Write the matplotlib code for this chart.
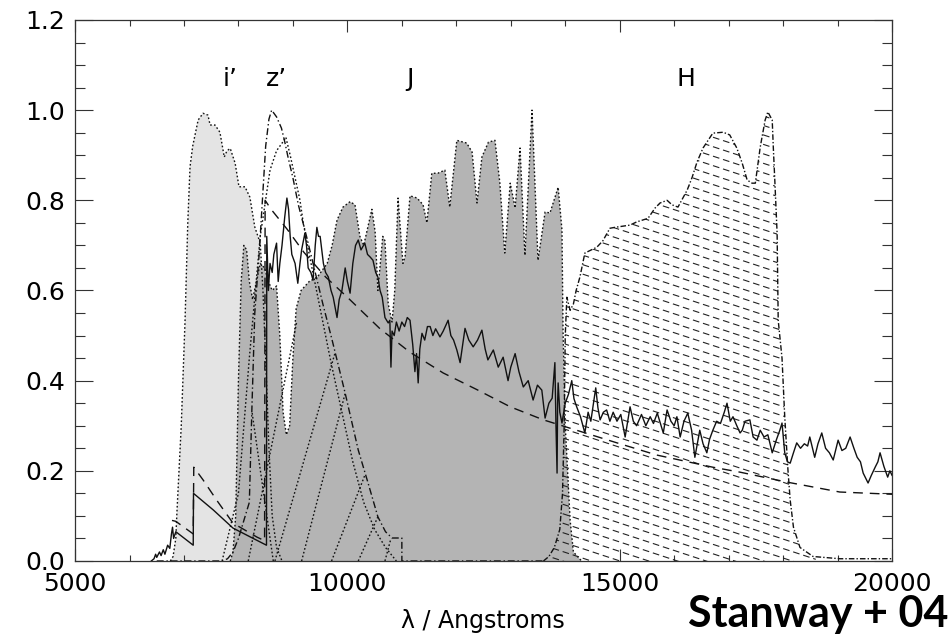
import numpy as np
import matplotlib
matplotlib.use('Agg')
import matplotlib.pyplot as plt
from matplotlib.patches import PathPatch

# i' filter (light grey fill)
ip_x = [6750, 6800, 6850, 6870, 6950, 7020, 7070, 7111, 7160, 7260, 7350, 7440, 7480, 7570, 7660,
        7740, 7790, 7850, 7940, 8010, 8120, 8210, 8300, 8400, 8450, 8500, 8560, 8620, 8700, 8800]
ip_y = [0, 0.01, 0.05, 0.106, 0.3, 0.534, 0.75, 0.874, 0.92, 0.978, 0.993, 0.989, 0.967, 0.967, 0.951,
        0.896, 0.91, 0.915, 0.882, 0.83, 0.83, 0.807, 0.741, 0.705, 0.6, 0.45, 0.25, 0.1, 0.03, 0]

# J / atmosphere curve (dark grey fill)
g_x = [7850, 7900, 7950, 8000, 8050, 8100, 8150, 8200, 8260, 8330, 8400, 8480, 8550, 8620, 8700,
       8760, 8820, 8880, 8940, 9000, 9060, 9150, 9300, 9450, 9630, 9720, 9810, 9920, 10050, 10140,
       10230, 10300, 10450, 10510, 10560, 10650, 10690, 10750, 10820, 10870, 10930, 11020, 11060, 11150, 11280,
       11390, 11460, 11550, 11660, 11790, 11880, 12010, 12190, 12290, 12380, 12470, 12590, 12710, 12800, 12890,
       12990, 13080, 13170, 13260, 13390, 13500, 13630, 13720, 13870, 13940, 13960, 14000, 14090, 14150, 14300]
g_y = [0, 0.02, 0.1, 0.4, 0.62, 0.70, 0.69, 0.62, 0.58, 0.62, 0.66, 0.65, 0.62, 0.60, 0.61,
       0.50, 0.33, 0.28, 0.30, 0.45, 0.56, 0.60, 0.62, 0.63, 0.66, 0.70, 0.756, 0.785, 0.797, 0.79,
       0.72, 0.70, 0.78, 0.73, 0.60, 0.72, 0.71, 0.57, 0.53, 0.60, 0.805, 0.66, 0.675, 0.81, 0.805,
       0.79, 0.75, 0.86, 0.86, 0.867, 0.785, 0.933, 0.927, 0.907, 0.794, 0.896, 0.929, 0.933, 0.838, 0.683,
       0.838, 0.783, 0.916, 0.678, 1.0, 0.667, 0.774, 0.772, 0.829, 0.734, 0.51, 0.3, 0.09, 0.02, 0]

# H filter (hatched)
h_x = [13600, 13700, 13800, 13900, 13950, 13980, 14000, 14030, 14090, 14150,
       14200, 14270, 14360, 14580, 14690, 14820, 14910, 15190, 15310, 15520,
       15650, 15740, 15870, 15960, 16070, 16240, 16330, 16420, 16530, 16710,
       16900, 17020, 17150, 17250, 17340, 17430, 17490, 17580, 17670, 17720,
       17800, 17820, 17850, 17890, 17910, 17980, 18030, 18090, 18130, 18190,
       18310, 18550, 19040, 20000]
h_y = [0, 0.01, 0.03, 0.07, 0.15, 0.3, 0.5, 0.585, 0.556, 0.57,
       0.6, 0.63, 0.683, 0.696, 0.71, 0.738, 0.74, 0.745, 0.752, 0.76,
       0.783, 0.794, 0.80, 0.79, 0.785, 0.823, 0.851, 0.885, 0.916, 0.949,
       0.951, 0.945, 0.916, 0.882, 0.845, 0.838, 0.838, 0.918, 0.978, 0.996,
       0.978, 0.918, 0.838, 0.727, 0.534, 0.45, 0.32, 0.2, 0.135, 0.075,
       0.03, 0.01, 0.005, 0.005]

# z' filter (dash-dot)
zp_x = [6500, 7700, 7800, 7900, 8000, 8100, 8200, 8250, 8300, 8380, 8440, 8500, 8560, 8610, 8700,
        8790, 8850, 8910, 9000, 9100, 9250, 9400, 9550, 9720, 9960, 10200, 10380, 10560, 10700, 10820,
        11000, 11001, 13600]
zp_y = [0, 0, 0.005, 0.02, 0.05, 0.09, 0.13, 0.35, 0.55, 0.68, 0.8, 0.92, 0.98, 1.0, 0.985,
        0.96, 0.93, 0.896, 0.85, 0.79, 0.72, 0.645, 0.57, 0.49, 0.372, 0.246, 0.173, 0.098, 0.065, 0.051,
        0.051, 0, 0]

# dotted curve peaking near z'
d0_x = [7700, 8000, 8200, 8400, 8580, 8700, 8820, 8870, 8950, 9040, 9130, 9190, 9300, 9500, 9700,
        9900, 10100, 10300, 10500, 10700, 10900]
d0_y = [0, 0.15, 0.45, 0.72, 0.867, 0.91, 0.93, 0.94, 0.9, 0.85, 0.8, 0.75, 0.68, 0.56, 0.44,
        0.33, 0.22, 0.13, 0.07, 0.03, 0]

# dotted straight segments
seg_x0 = [8180, 8670, 9160, 9710, 10200, 10690, 8640]
seg_y0 = [0, 0, 0, 0, 0, 0, 0]
seg_x1 = [9070, 9770, 9960, 10320, 10560, 10800, 8250]
seg_y1 = [0.53, 0.46, 0.372, 0.19, 0.098, 0.05, 0.33]

# observed spectrum (solid)
spectrum = [
    (6400, 0.0), (6450, 0.005), (6480, 0.015), (6500, 0.008), (6550, 0.02), (6580, 0.012),
    (6620, 0.025), (6650, 0.015), (6700, 0.035), (6740, 0.028), (6770, 0.06), (6790, 0.075),
    (6810, 0.05), (6850, 0.065), (7170, 0.035), (7175, 0.15), (7540, 0.113), (7900, 0.073),
    (8270, 0.05), (8515, 0.035), (8520, 0.72), (8550, 0.60), (8580, 0.66), (8620, 0.64),
    (8650, 0.68), (8700, 0.705), (8730, 0.62), (8760, 0.66), (8800, 0.70), (8850, 0.763),
    (8890, 0.805), (8920, 0.78), (8950, 0.72), (8980, 0.68), (9040, 0.66), (9090, 0.616),
    (9130, 0.66), (9160, 0.69), (9220, 0.727), (9250, 0.70), (9280, 0.65), (9330, 0.64),
    (9370, 0.623), (9410, 0.70), (9440, 0.74), (9470, 0.72), (9500, 0.72), (9560, 0.66),
    (9600, 0.64), (9650, 0.63), (9700, 0.60), (9740, 0.585), (9780, 0.56), (9810, 0.54),
    (9850, 0.58), (9900, 0.60), (9960, 0.65), (10000, 0.62), (10050, 0.594), (10100, 0.66),
    (10150, 0.70), (10200, 0.712), (10250, 0.69), (10320, 0.705), (10370, 0.68), (10420, 0.674),
    (10470, 0.667), (10520, 0.64), (10560, 0.63), (10600, 0.60), (10640, 0.585), (10690, 0.54),
    (10750, 0.528), (10780, 0.534), (10800, 0.43), (10820, 0.51), (10860, 0.50), (10900, 0.53),
    (10950, 0.51), (11000, 0.53), (11050, 0.52), (11100, 0.54), (11150, 0.534), (11200, 0.48),
    (11240, 0.42), (11270, 0.46), (11300, 0.395), (11330, 0.47), (11370, 0.505), (11420, 0.49),
    (11470, 0.52), (11520, 0.52), (11570, 0.50), (11620, 0.515), (11700, 0.497), (11760, 0.51),
    (11850, 0.534), (11900, 0.50), (11950, 0.49), (12010, 0.468), (12070, 0.44), (12160, 0.516),
    (12230, 0.49), (12310, 0.475), (12390, 0.49), (12470, 0.512), (12530, 0.47), (12580, 0.446),
    (12680, 0.468), (12770, 0.43), (12860, 0.452), (12950, 0.40), (13000, 0.43), (13080, 0.46),
    (13150, 0.42), (13230, 0.386), (13320, 0.40), (13410, 0.357), (13490, 0.39), (13570, 0.379),
    (13630, 0.317), (13700, 0.35), (13760, 0.361), (13810, 0.44), (13830, 0.30), (13850, 0.195),
    (13860, 0.35), (13870, 0.395), (13900, 0.33), (13940, 0.306), (14000, 0.35), (14060, 0.37),
    (14120, 0.40), (14160, 0.36), (14210, 0.342), (14280, 0.32), (14360, 0.284), (14420, 0.33),
    (14470, 0.31), (14560, 0.384), (14600, 0.34), (14640, 0.313), (14700, 0.33), (14760, 0.335),
    (14820, 0.31), (14880, 0.33), (14950, 0.31), (15020, 0.325), (15100, 0.275), (15190, 0.342),
    (15250, 0.31), (15310, 0.30), (15400, 0.325), (15480, 0.30), (15560, 0.32), (15620, 0.305),
    (15690, 0.328), (15800, 0.284), (15870, 0.335), (15940, 0.31), (16000, 0.30), (16050, 0.32),
    (16110, 0.275), (16180, 0.31), (16250, 0.328), (16320, 0.29), (16380, 0.23), (16470, 0.29),
    (16530, 0.26), (16600, 0.24), (16650, 0.27), (16710, 0.29), (16780, 0.31), (16850, 0.305),
    (16920, 0.33), (16970, 0.35), (17030, 0.31), (17080, 0.32), (17150, 0.30), (17210, 0.284),
    (17250, 0.29), (17300, 0.31), (17390, 0.313), (17450, 0.275), (17520, 0.268), (17580, 0.29),
    (17650, 0.275), (17720, 0.28), (17800, 0.24), (17880, 0.27), (17940, 0.29), (17980, 0.306),
    (18030, 0.24), (18080, 0.22), (18130, 0.217), (18190, 0.24), (18250, 0.262), (18320, 0.25),
    (18390, 0.26), (18450, 0.255), (18490, 0.275), (18580, 0.23), (18640, 0.26), (18710, 0.284),
    (18780, 0.25), (18850, 0.24), (18920, 0.224), (19010, 0.268), (19080, 0.245), (19150, 0.25),
    (19230, 0.275), (19300, 0.25), (19360, 0.23), (19420, 0.22), (19470, 0.195), (19560, 0.173),
    (19620, 0.19), (19690, 0.208), (19740, 0.22), (19780, 0.24), (19850, 0.21), (19920, 0.186),
    (19960, 0.20), (20000, 0.19)]

# model continuum (dashed)
model = [(6780, 0.09), (6850, 0.088), (7170, 0.06), (7180, 0.208), (7350, 0.18), (7600, 0.135),
         (7900, 0.084), (8340, 0.053), (8480, 0.045), (8490, 0.80), (8600, 0.78), (8900, 0.735),
         (9200, 0.685), (9600, 0.63), (10000, 0.585), (10600, 0.515), (11150, 0.463), (11760, 0.417),
         (12380, 0.38), (12990, 0.342), (13600, 0.313), (14950, 0.262), (15680, 0.235), (16710, 0.208),
         (17210, 0.197), (18070, 0.175), (19040, 0.153), (20000, 0.148)]

band_names = ['i\u2019', 'z\u2019', 'J', 'H']
band_pos = [7850, 8700, 11150, 16220]

spec_x, spec_y = map(list, zip(*spectrum))
mod_x, mod_y = map(list, zip(*model))

dotted = (0, (1.2, 1.6))
fig = plt.figure(figsize=(9.51, 6.38), dpi=100)
ax = fig.add_axes([0.0789, 0.1207, 0.8591, 0.848])

ax.fill_between(ip_x, ip_y, 0, facecolor='#e4e4e4', edgecolor='none', zorder=1)
ax.fill_between(g_x, g_y, 0, facecolor='#b4b4b4', edgecolor='none', zorder=2)
ax.plot(ip_x, ip_y, color='#111111', lw=1.0, ls=dotted, zorder=3)
ax.plot(g_x, g_y, color='#111111', lw=1.0, ls=dotted, zorder=3)

# H band with slanted dashed hatching
h_poly = ax.fill_between(h_x, h_y, 0, facecolor='none', edgecolor='none', zorder=3)
clip = PathPatch(h_poly.get_paths()[0], transform=ax.transData, facecolor='none', edgecolor='none')
ax.add_patch(clip)
slope = -0.33 * (817 / 15000) / (541 / 1.2)
for c in np.arange(-0.02, 1.6, 0.021):
    hx = np.array([13400, 18600])
    ln, = ax.plot(hx, c + slope * (hx - 13400), color='#222222', lw=0.8,
                  ls=(0, (6, 3.5)), zorder=4)
    ln.set_clip_path(clip)
ax.plot(h_x, h_y, color='#111111', lw=1.0, ls=(0, (4, 1.5, 1, 1.5)), zorder=5)

ax.plot(zp_x, zp_y, color='#111111', lw=1.0, ls=(0, (5, 2, 1, 2)), zorder=5)
ax.plot(d0_x, d0_y, color='#111111', lw=1.0, ls=dotted, zorder=5)
for x0, y0, x1, y1 in zip(seg_x0, seg_y0, seg_x1, seg_y1):
    ax.plot([x0, x1], [y0, y1], color='#111111', lw=1.0, ls=dotted, zorder=5)

ax.plot(mod_x, mod_y, color='#111111', lw=1.0, ls=(0, (7, 5)), zorder=6)
ax.plot(spec_x, spec_y, color='#111111', lw=1.0, zorder=7)

for name, xp in zip(band_names, band_pos):
    ax.text(xp, 1.07, name, ha='center', va='center', fontsize=18, zorder=8)

ax.set_xlim(5000, 20000)
ax.set_ylim(0, 1.2)
ax.set_xticks([5000, 10000, 15000, 20000])
ax.set_xticks(np.arange(5000, 20001, 1000), minor=True)
ax.set_yticks(np.arange(0, 1.21, 0.2))
ax.set_yticks(np.arange(0, 1.21, 0.05), minor=True)
ax.set_yticklabels(['%.1f' % v for v in np.arange(0, 1.21, 0.2)])
ax.tick_params(which='both', direction='in', top=True, right=True, width=0.8, color='#333333')
ax.tick_params(axis='x', which='major', length=8.6, labelsize=18, pad=8)
ax.tick_params(axis='x', which='minor', length=4.3)
ax.tick_params(axis='y', which='major', length=13, labelsize=18, pad=7)
ax.tick_params(axis='y', which='minor', length=7.2)
for sp in ax.spines.values():
    sp.set_color('#333333')
    sp.set_linewidth(0.9)

ax.set_xlabel('\u03bb / Angstroms', fontsize=17, va='top')
ax.xaxis.set_label_coords(0.499, -0.088)

fig.text(0.997, 1 - 627 / 638, 'Stanway + 04', ha='right', va='baseline',
         fontsize=31, fontweight='bold', family='Lato')

plt.savefig('out.png', dpi=100)
plt.close()
